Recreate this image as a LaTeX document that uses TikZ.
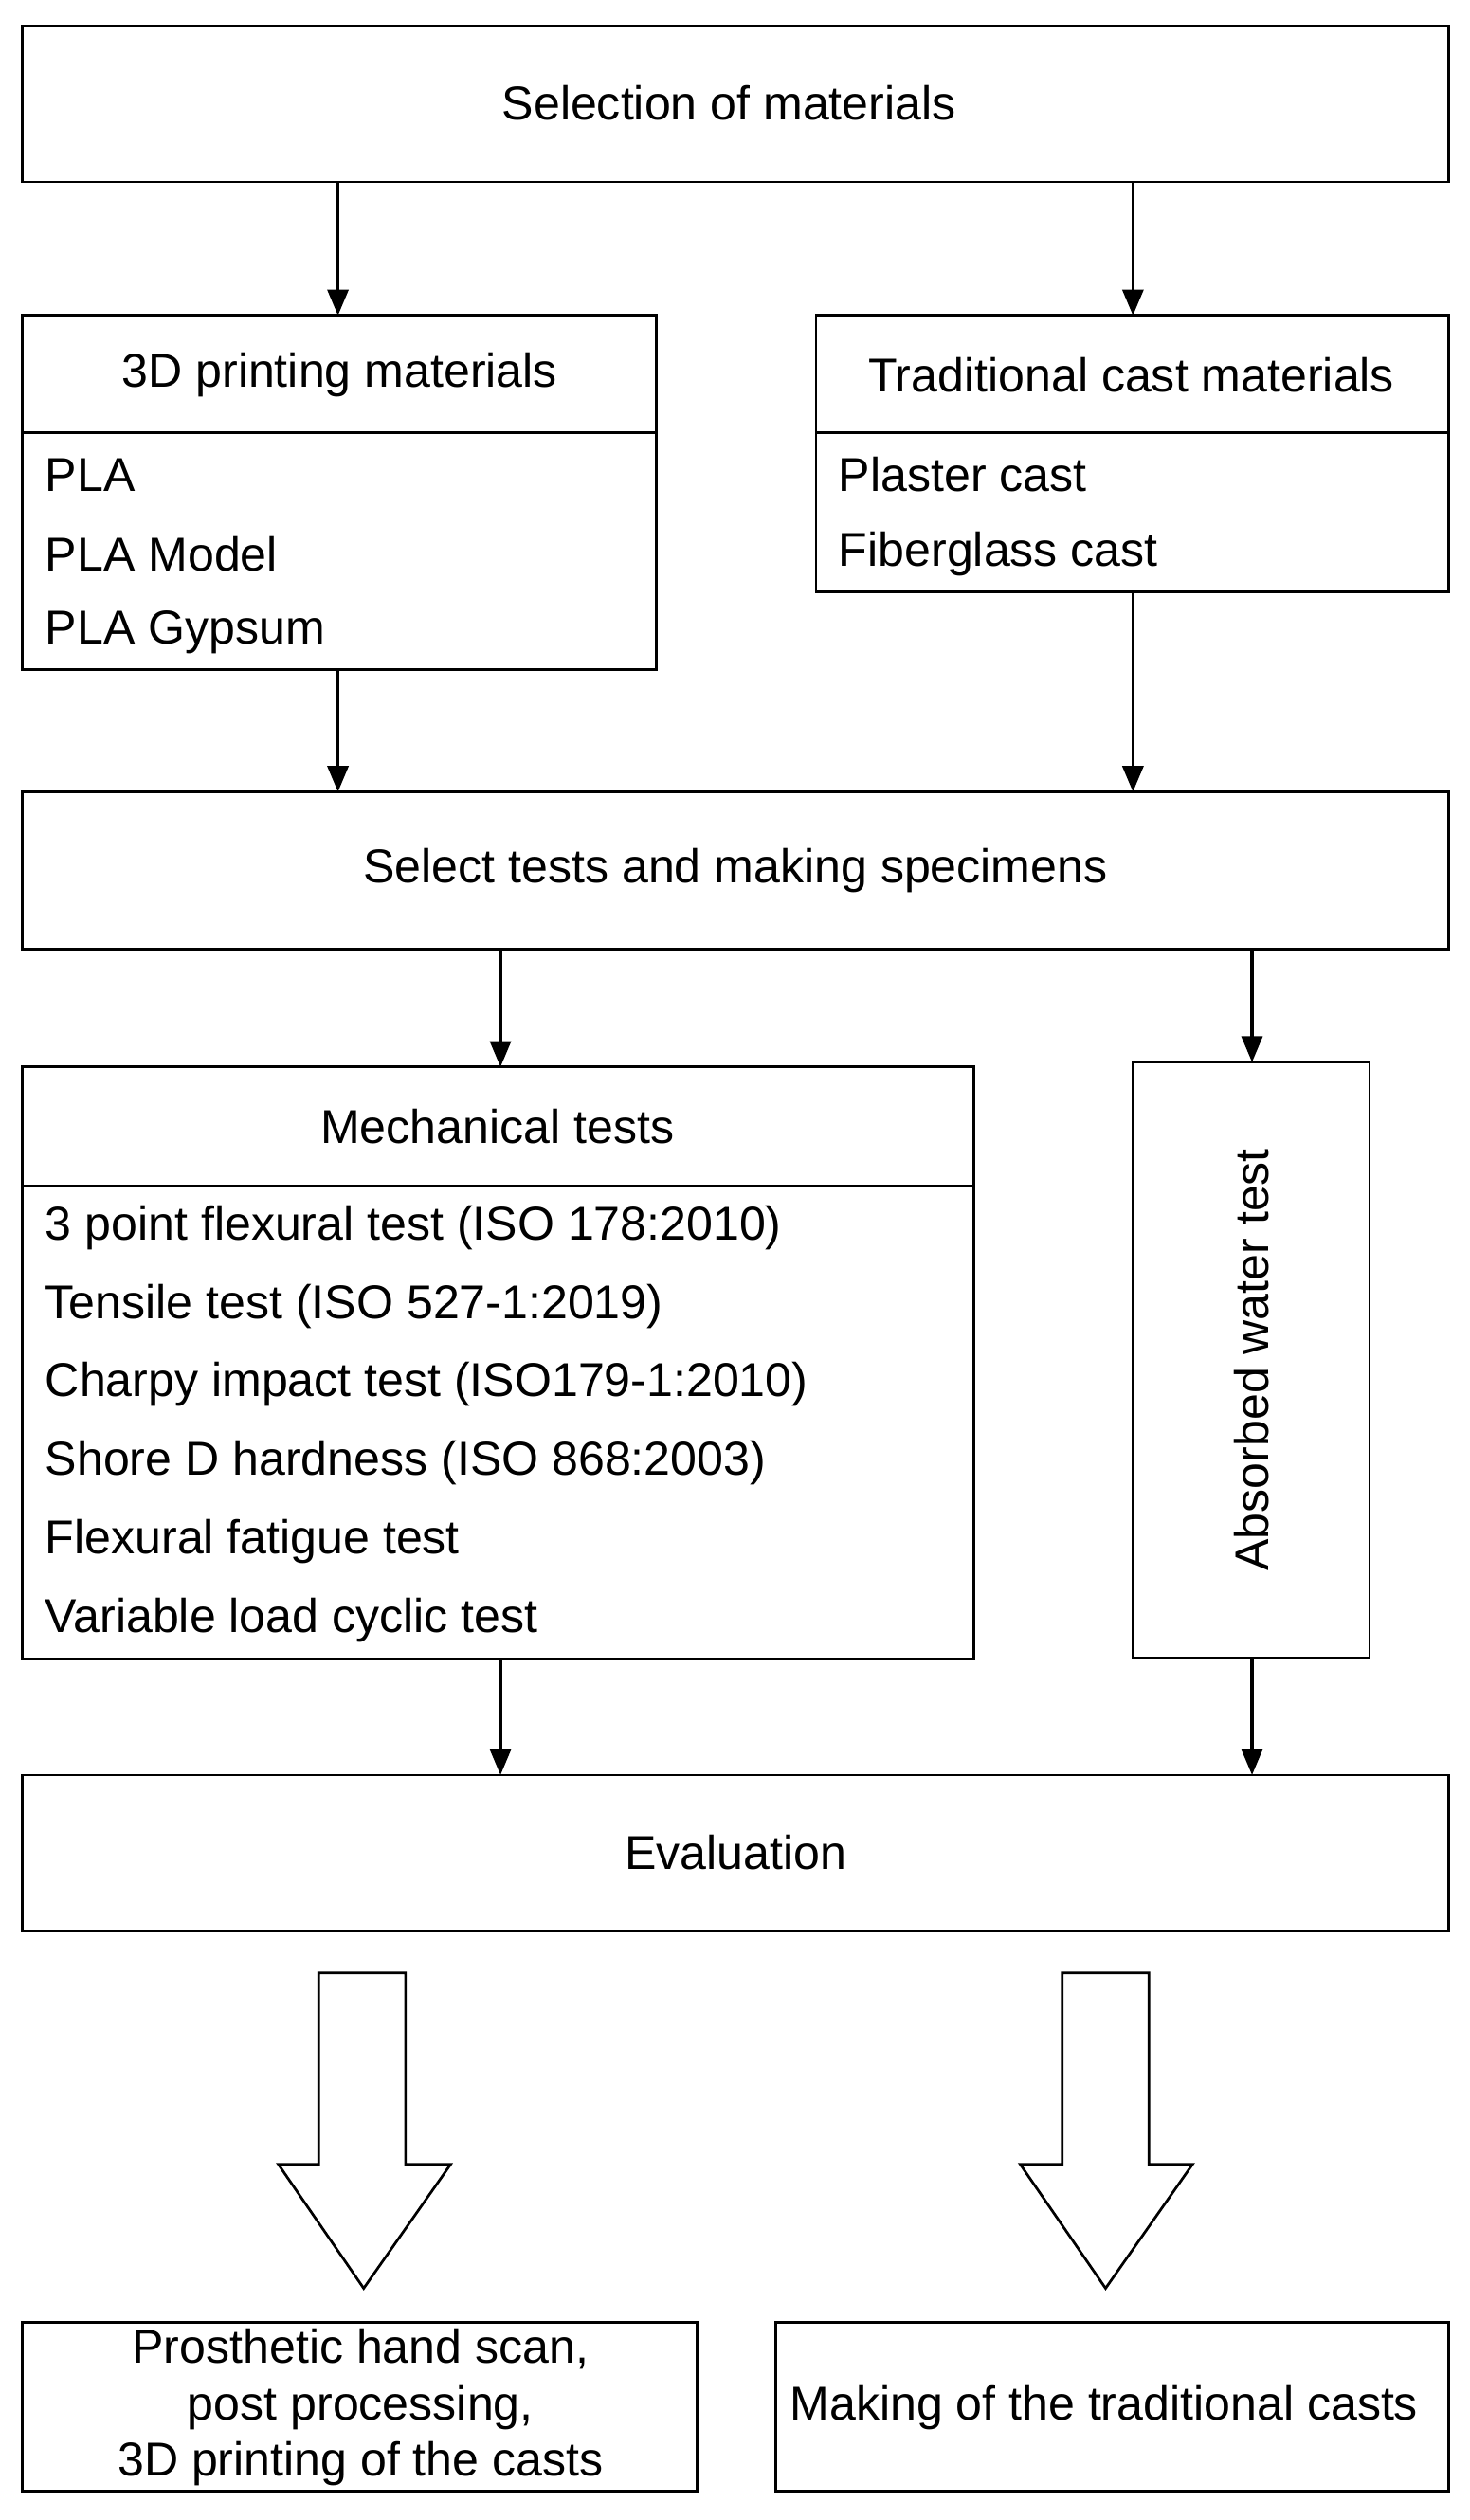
\documentclass[tikz,border=0pt]{standalone}
\usepackage{fontspec}
\setmainfont{Liberation Sans}
\usetikzlibrary{arrows.meta}
\begin{document}
\begin{tikzpicture}[x=1pt,y=-1pt,
  box/.style={draw,line width=1.6pt,inner sep=0pt},
  txt/.style={font=\fontsize{29.5}{35}\selectfont,inner sep=0pt},
  item/.style={txt,anchor=west},
  arr/.style={line width=1.8pt,-{Triangle[length=16pt,width=13pt]}}]
\useasboundingbox (0,0) rectangle (913,1566);
% top
\draw[box] (14,16) rectangle (900,113);
\node[txt] (sel) at (453,64) {Selection of materials};
\coordinate (s1) at (210,113); \coordinate (s2) at (704,113);
% 3D printing
\draw[box] (14,196) rectangle (408,416); \draw[line width=1.6pt] (14,269) -- (408,269);
\node[txt] (p3d) at (211,233) {3D printing materials};
\node[item] (pla) at (28,295) {PLA};
\node[item] (plam) at (28,344) {PLA Model};
\node[item] (plag) at (28,393) {PLA Gypsum};
\coordinate (p3dt) at (210,196); \coordinate (p3db) at (210,416);
% traditional
\draw[box] (507,196) rectangle (900,368); \draw[line width=1.6pt] (507,269) -- (900,269);
\node[txt] (trad) at (703,233) {Traditional cast materials};
\node[item] (pc) at (521,295) {Plaster cast};
\node[item] (fc) at (521,344) {Fiberglass cast};
\coordinate (tradt) at (704,196); \coordinate (tradb) at (704,368);
\draw[arr] (s1) -- (p3dt); \draw[arr] (s2) -- (tradt);
% select tests
\draw[box] (14,492) rectangle (900,590);
\node[txt] (stm) at (457,541) {Select tests and making specimens};
\coordinate (st1) at (210,492); \coordinate (st2) at (704,492);
\draw[arr] (p3db) -- (st1); \draw[arr] (tradb) -- (st2);
\coordinate (sb1) at (311,590); \coordinate (sb2) at (778,590);
% mechanical
\draw[box] (14,663) rectangle (605,1031); \draw[line width=1.6pt] (14,737) -- (605,737);
\node[txt] (mech) at (309,700) {Mechanical tests};
\node[item] at (28,763) {3 point flexural test (ISO 178:2010)};
\node[item] at (28,812) {Tensile test (ISO 527-1:2019)};
\node[item] at (28,860) {Charpy impact test (ISO179-1:2010)};
\node[item] at (28,909) {Shore D hardness (ISO 868:2003)};
\node[item] at (28,958) {Flexural fatigue test};
\node[item] at (28,1007) {Variable load cyclic test};
\coordinate (mt) at (311,663); \coordinate (mb) at (311,1031);
% absorbed water
\draw[box] (704,660) rectangle (851,1030);
\node[txt,rotate=90] (aw) at (778,845) {Absorbed water test};
\coordinate (awt) at (778,660); \coordinate (awb) at (778,1030);
\draw[arr] (sb1) -- (mt); \draw[arr] (sb2) -- (awt);
% evaluation
\draw[box] (14,1103) rectangle (900,1200);
\node[txt] (ev) at (457,1151) {Evaluation};
\coordinate (e1) at (311,1103); \coordinate (e2) at (778,1103);
\draw[arr] (mb) -- (e1); \draw[arr] (awb) -- (e2);
% hollow arrows
\draw[line width=1.6pt,line join=miter] (198,1226) -- (252,1226) -- (252,1345) -- (280,1345) -- (226,1422) -- (173,1345) -- (198,1345) -- cycle;
\draw[line width=1.6pt,line join=miter] (660,1226) -- (714,1226) -- (714,1345) -- (741,1345) -- (687,1422) -- (634,1345) -- (660,1345) -- cycle;
% bottom
\draw[box] (14,1443) rectangle (433,1548);
\node[txt,align=center] (ph) at (224,1496) {Prosthetic hand scan,\\post processing,\\3D printing of the casts};
\draw[box] (482,1443) rectangle (900,1548);
\node[txt] (mk) at (686,1496) {Making of the traditional casts};
\end{tikzpicture}
\end{document}
